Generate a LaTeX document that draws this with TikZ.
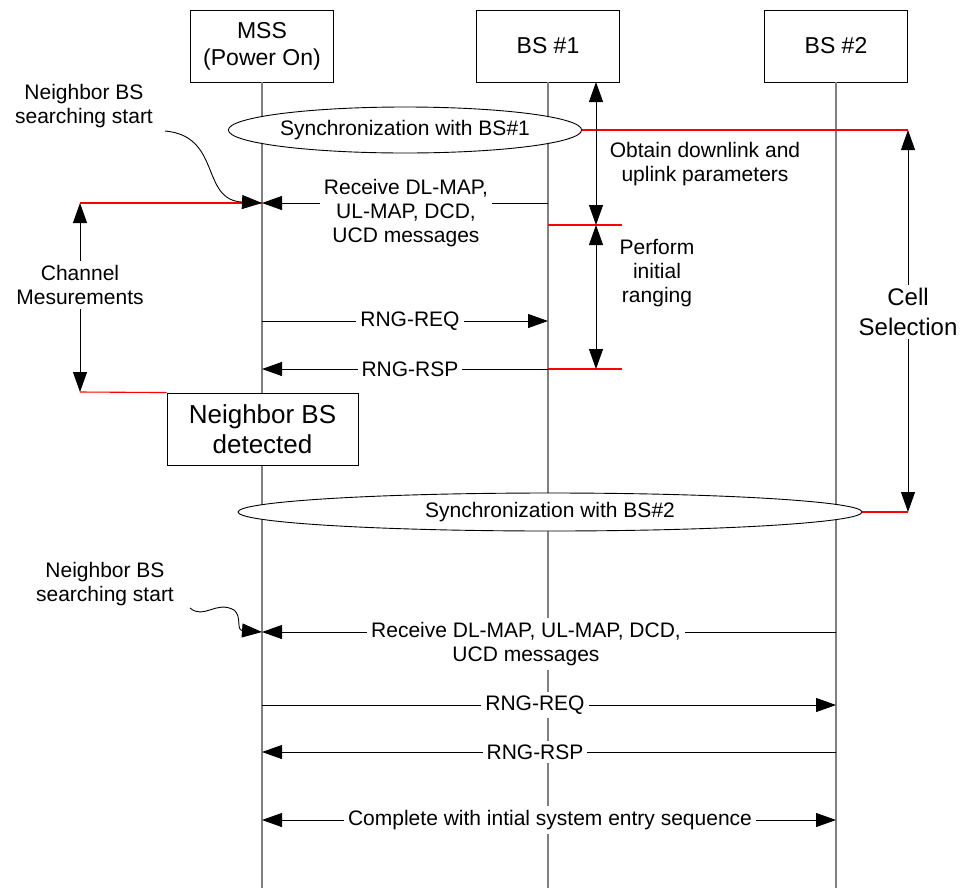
\documentclass[tikz,border=0pt]{standalone}
\usepackage{fontspec}
\setmainfont{Liberation Sans}
\usetikzlibrary{arrows.meta,shapes.geometric}

\tikzset{
 msg/.style={line width=0.9pt,-{Triangle[length=20pt,width=14pt]}},
 twoway/.style={line width=0.9pt,{Triangle[length=20pt,width=14pt]}-{Triangle[length=20pt,width=14pt]}},
 life/.style={draw=black!50,line width=1.2pt},
 redline/.style={draw=red,line width=1.1pt},
 lbl/.style={fill=white,inner sep=4pt,align=center,font=\fontsize{21}{24}\selectfont},
 plain/.style={inner sep=0pt,align=center,font=\fontsize{21}{24}\selectfont},
 entity/.style={draw,fill=white,line width=0.9pt,minimum width=143pt,minimum height=72pt,align=center,font=\fontsize{23}{27}\selectfont},
 sync/.style={ellipse,draw,fill=white,line width=0.9pt,inner sep=0pt,font=\fontsize{21}{24}\selectfont},
}

\begin{document}
\begin{tikzpicture}[x=1pt,y=-1pt]
 \useasboundingbox (0,0) rectangle (960,892);

 \node (mss) at (262,46) [entity] {MSS\\(Power On)}; % mobile station
 \node (bsa) at (548,46) [entity] {BS \#1}; % serving BS
 \node (bsb) at (836,46) [entity] {BS \#2}; % neighbor BS

 \draw [life] (mss.south) -- (262,888);
 \draw [life] (bsa.south) -- (548,888);
 \draw [life] (bsb.south) -- (836,888);

 % synchronization with BS#1
 \node (synca) at (405,130) [sync,minimum width=336pt,minimum height=46pt] {Synchronization with BS\#1};
 \coordinate (csa) at (908,130); % top of cell selection
 \coordinate (csb) at (908,512); % bottom of cell selection
 \draw [redline] (synca.east) -- (csa);

 % downlink / uplink parameters and ranging
 \coordinate (oa) at (596,82);
 \coordinate (ob) at (596,225);
 \coordinate (oc) at (596,369);
 \draw [redline] (548,225) -- (622,225);
 \draw [redline] (548,369) -- (622,369);
 \draw [twoway] (oa) -- (ob);
 \draw [twoway] (ob) -- (oc);
 \node (obtain) at (705,164) [plain] {Obtain downlink and\\uplink parameters};
 \node (perform) at (657,273) [plain] {Perform\\initial\\ranging};

 % first DL-MAP reception
 \coordinate (a1) at (262,203); \coordinate (b1) at (548,203);
 \draw [redline] (80,203) -- (a1);
 \draw [msg] (b1) -- (a1);
 \node (rx1) at (406,213) [lbl] {Receive DL-MAP,\\UL-MAP, DCD,\\UCD messages};

 \node (nbs1) at (84,106) [plain] {Neighbor BS\\searching start};
 \coordinate (c1) at (165,131);
 \draw [msg] (c1) .. controls (222,136) and (200,200) .. (a1);

 % channel measurements
 \coordinate (ch1) at (80,203); \coordinate (ch2) at (80,392);
 \draw [twoway] (ch1) -- (ch2);
 \node (chan) at (80,285) [lbl] {Channel\\Mesurements};

 % ranging with BS#1
 \coordinate (a2) at (262,321); \coordinate (b2) at (548,321);
 \draw [msg] (a2) -- (b2);
 \node (req1) at (410,321) [lbl] {RNG-REQ};
 \coordinate (a3) at (262,369); \coordinate (b3) at (548,369);
 \draw [msg] (b3) -- (a3);
 \node (rsp1) at (410,369) [lbl] {RNG-RSP};

 \node (det) at (262.5,429) [entity,minimum width=191pt,font=\fontsize{26}{30}\selectfont] {Neighbor BS\\detected};
 \draw [redline] (ch2) -- (det.north west);

 % cell selection
 \node (syncb) at (550,512) [sync,minimum width=624pt,minimum height=38pt] {Synchronization with BS\#2};
 \draw [redline] (syncb.east) -- (csb);
 \draw [twoway] (csa) -- (csb);
 \node (cell) at (908,312) [lbl,inner sep=3pt,font=\fontsize{24}{30}\selectfont] {Cell\\Selection};

 % second DL-MAP reception
 \coordinate (a4) at (262,632); \coordinate (b4) at (836,632);
 \draw [msg] (b4) -- (a4);
 \node (rx2) at (526,644) [lbl] {Receive DL-MAP, UL-MAP, DCD,\\UCD messages};

 \node (nbs2) at (105,584) [plain] {Neighbor BS\\searching start};
 \coordinate (c2) at (190,608);
 \draw [msg] (c2) .. controls (204,620) and (216,600) .. (234,610) .. controls (242,616) and (236,630) .. (a4);

 % ranging with BS#2
 \coordinate (a5) at (262,705); \coordinate (b5) at (836,705);
 \draw [msg] (a5) -- (b5);
 \node (req2) at (535,705) [lbl] {RNG-REQ};
 \coordinate (a6) at (262,752); \coordinate (b6) at (836,752);
 \draw [msg] (b6) -- (a6);
 \node (rsp2) at (535,752) [lbl] {RNG-RSP};

 \coordinate (a7) at (262,820); \coordinate (b7) at (836,820);
 \draw [twoway] (a7) -- (b7);
 \node (done) at (550,820) [lbl] {Complete with intial system entry sequence};
\end{tikzpicture}
\end{document}
